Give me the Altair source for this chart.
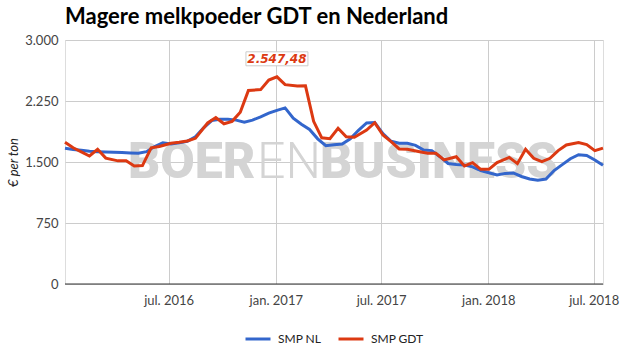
import altair as alt
import pandas as pd

# --- data ---
gdt_dates = ["2016-01-05", "2016-01-19", "2016-02-02", "2016-02-16", "2016-03-01", "2016-03-15",
             "2016-04-05", "2016-04-19", "2016-05-03", "2016-05-17", "2016-06-01", "2016-06-15",
             "2016-07-05", "2016-07-19", "2016-08-02", "2016-08-16", "2016-09-06", "2016-09-20",
             "2016-10-04", "2016-10-18", "2016-11-01", "2016-11-15", "2016-12-06", "2016-12-20",
             "2017-01-03", "2017-01-17", "2017-02-07", "2017-02-21", "2017-03-07", "2017-03-21",
             "2017-04-04", "2017-04-18", "2017-05-02", "2017-05-16", "2017-06-06", "2017-06-20",
             "2017-07-04", "2017-07-18", "2017-08-01", "2017-08-15", "2017-09-05", "2017-09-19",
             "2017-10-03", "2017-10-17", "2017-11-07", "2017-11-21", "2017-12-05", "2017-12-19",
             "2018-01-02", "2018-01-16", "2018-02-06", "2018-02-20", "2018-03-06", "2018-03-20",
             "2018-04-03", "2018-04-17", "2018-05-01", "2018-05-15", "2018-06-05", "2018-06-19",
             "2018-07-03", "2018-07-17"]
gdt_values = [1742, 1675, 1625, 1574, 1656, 1548, 1514, 1516, 1451, 1456, 1675, 1690,
              1730, 1742, 1758, 1791, 1980, 2047, 1970, 2000, 2112, 2380, 2390, 2508,
              2547.48, 2451, 2434, 2436, 2000, 1797, 1787, 1914, 1811, 1804, 1893, 1983,
              1832, 1750, 1660, 1656, 1627, 1607, 1607, 1525, 1565, 1451, 1492, 1410,
              1410, 1492, 1557, 1480, 1656, 1545, 1504, 1545, 1640, 1710, 1740, 1715,
              1639, 1670]

nl_start = "2016-01-05"
nl_values = [1670, 1655, 1645, 1632, 1627, 1622, 1619, 1617, 1612, 1607,
             1627, 1690, 1735, 1721, 1735, 1755, 1810, 1920, 2010, 2025,
             2025, 2015, 1990, 2015, 2055, 2100, 2135, 2165, 2040, 1965,
             1900, 1785, 1700, 1712, 1720, 1785, 1890, 1980, 1985, 1850,
             1755, 1730, 1730, 1705, 1648, 1640, 1565, 1482, 1470, 1462,
             1440, 1395, 1368, 1340, 1360, 1365, 1322, 1292, 1275, 1290,
             1395, 1468, 1540, 1590, 1580, 1525, 1460]

series_names = ["SMP NL", "SMP GDT"]
series_colors = ["#3366cc", "#dc3912"]
y_ticks = [0, 750, 1500, 2250, 3000]
watermark_parts = ["BOER", "EN", "BUSINESS"]

nl_dates = pd.date_range(nl_start, periods=len(nl_values), freq="14D").strftime("%Y-%m-%d").tolist()

df = pd.concat([
    pd.DataFrame({"date": [d + "T00:00:00" for d in nl_dates], "value": nl_values, "series": "SMP NL"}),
    pd.DataFrame({"date": [d + "T00:00:00" for d in gdt_dates], "value": gdt_values, "series": "SMP GDT"}),
])

peak_i = gdt_values.index(max(gdt_values))
peak_val = gdt_values[peak_i]
peak_label = f"{peak_val:,.2f}".replace(",", "X").replace(".", ",").replace("X", ".")
peak_df = pd.DataFrame({"date": [gdt_dates[peak_i] + "T00:00:00"], "value": [peak_val], "label": [peak_label]})

FONT = "Lato"

x_scale = alt.Scale(domain=[alt.DateTime(year=2016, month=1, date=5),
                            alt.DateTime(year=2018, month=7, date=17)], nice=False)
y_scale = alt.Scale(domain=[0, 3000], nice=False)

x_axis = alt.Axis(
    values=[alt.DateTime(year=2016, month=7, date=1), alt.DateTime(year=2017, month=1, date=1),
            alt.DateTime(year=2017, month=7, date=1), alt.DateTime(year=2018, month=1, date=1),
            alt.DateTime(year=2018, month=7, date=1)],
    labelExpr="(month(datum.value) == 0 ? 'jan. ' : 'jul. ') + year(datum.value)",
    title=None, domain=False, ticks=False, grid=True, gridColor="#cccccc",
    labelFont=FONT, labelFontSize=13, labelColor="#444444", labelPadding=10,
)
y_axis = alt.Axis(
    values=y_ticks,
    labelExpr="replace(format(datum.value, ','), ',', '.')",
    title="€ per ton", titleFont=FONT, titleFontSize=13, titleFontStyle="italic",
    titleFontWeight="normal", titleColor="#222222", titlePadding=4,
    domain=False, ticks=False, grid=True, gridColor="#cccccc",
    labelFont=FONT, labelFontSize=13, labelColor="#444444", labelPadding=7,
)

one = pd.DataFrame({"k": [0]})

# watermark (logo text behind the lines)
wm_style = dict(font="Roboto", fontSize=50, color="#d4d4d4", baseline="alphabetic", align="left")
wm1 = alt.Chart(one).mark_text(text=watermark_parts[0], fontWeight=900, **wm_style).encode(
    x=alt.value(63), y=alt.value(138))
wm2 = alt.Chart(one).mark_text(text=watermark_parts[1], fontWeight=300, **wm_style).encode(
    x=alt.value(192), y=alt.value(138))
wm3 = alt.Chart(one).mark_text(text=watermark_parts[2], fontWeight=900, **wm_style).encode(
    x=alt.value(255), y=alt.value(138))

baseline = alt.Chart(pd.DataFrame({"y": [0]})).mark_rule(color="#333333", strokeWidth=1).encode(
    y=alt.Y("y:Q", scale=y_scale, axis=y_axis))

lines = alt.Chart(df).mark_line(strokeWidth=3).encode(
    x=alt.X("date:T", scale=x_scale, axis=x_axis),
    y=alt.Y("value:Q", scale=y_scale, axis=y_axis),
    color=alt.Color("series:N", scale=alt.Scale(domain=series_names, range=series_colors),
                    legend=alt.Legend(title=None, orient="none", direction="horizontal",
                                      legendX=179, legendY=285,
                                      symbolType="stroke", symbolStrokeWidth=3, symbolSize=625,
                                      labelFont=FONT, labelFontSize=12, labelColor="#222222",
                                      labelOffset=6, columnPadding=10)),
)

box = alt.Chart(peak_df).mark_rect(width=62, height=14, yOffset=-18, fill="white",
                                   stroke="#cccccc", strokeWidth=1).encode(
    x=alt.X("date:T", scale=x_scale), y=alt.Y("value:Q", scale=y_scale))
txt = alt.Chart(peak_df).mark_text(font="DejaVu Sans", fontSize=12, fontWeight="bold",
                                   fontStyle="italic", color="#dc3912", dy=-18,
                                   baseline="middle", align="center").encode(
    x=alt.X("date:T", scale=x_scale), y=alt.Y("value:Q", scale=y_scale), text="label:N")

chart = alt.layer(wm1, wm2, wm3, baseline, lines, box, txt).properties(
    width=538, height=244,
    padding={"left": 65, "top": 40, "right": 22, "bottom": 71},
    autosize=alt.AutoSizeParams(type="none"),
    title=alt.TitleParams("Magere melkpoeder GDT en Nederland", anchor="start", frame="group",
                          font=FONT, fontSize=22, fontWeight="bold", color="#000000", offset=5),
).configure_view(stroke=None).configure(background="white")

chart.save("out.html", embed_options={"renderer": "svg", "actions": False})
